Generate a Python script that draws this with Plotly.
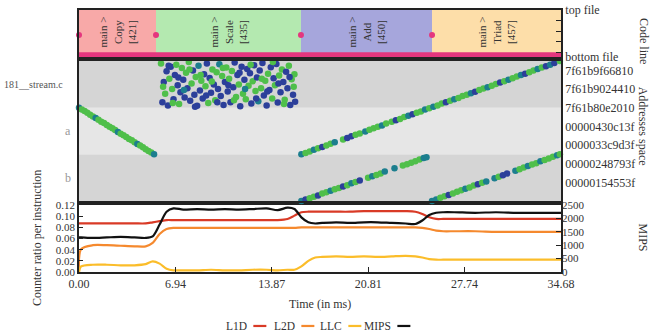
import plotly.graph_objects as go

# ---------------- data ----------------
# counters (bottom panel)
time_ms = [0.0, 0.15, 1.0, 2.0, 3.0, 4.0, 4.8, 5.3, 5.8, 6.3, 6.8, 7.5, 8.5, 9.5, 10.5, 11.5,
           12.5, 13.5, 14.3, 15.0, 15.5, 16.0, 16.5, 17.0, 17.5, 18.5, 19.5, 20.5, 21.5, 22.5,
           23.5, 24.2, 24.7, 25.2, 25.7, 26.2, 27.0, 28.5, 30.0, 31.5, 33.0, 34.68]
l1d = [0.087, 0.087, 0.087, 0.087, 0.087, 0.087, 0.087, 0.089, 0.091, 0.093, 0.093, 0.093, 0.093,
       0.093, 0.093, 0.093, 0.093, 0.093, 0.093, 0.095, 0.101, 0.107, 0.108, 0.108, 0.108, 0.108,
       0.108, 0.109, 0.109, 0.109, 0.109, 0.108, 0.104, 0.098, 0.095, 0.095, 0.095, 0.095, 0.095,
       0.095, 0.095, 0.095]
l2d = [0.0, 0.041, 0.048, 0.048, 0.047, 0.046, 0.046, 0.052, 0.068, 0.077, 0.079, 0.079, 0.079,
       0.079, 0.079, 0.079, 0.079, 0.079, 0.079, 0.079, 0.079, 0.080, 0.080, 0.080, 0.080, 0.080,
       0.080, 0.080, 0.080, 0.080, 0.080, 0.080, 0.079, 0.077, 0.074, 0.073, 0.073, 0.073, 0.072,
       0.072, 0.072, 0.072]
llc = [0.0, 0.010, 0.013, 0.013, 0.012, 0.012, 0.014, 0.019, 0.015, 0.006, 0.003, 0.003, 0.003,
       0.004, 0.003, 0.003, 0.004, 0.004, 0.003, 0.004, 0.004, 0.010, 0.020, 0.026, 0.027, 0.028,
       0.027, 0.028, 0.027, 0.028, 0.029, 0.028, 0.026, 0.023, 0.022, 0.022, 0.022, 0.022, 0.022,
       0.022, 0.022, 0.022]
mips = [1290, 1290, 1270, 1290, 1310, 1290, 1270, 1330, 1770, 2250, 2375, 2330, 2350, 2330, 2350,
        2330, 2350, 2375, 2310, 2400, 2350, 2040, 1855, 1810, 1830, 1855, 1830, 1855, 1855, 1830,
        1810, 1790, 1920, 2125, 2210, 2230, 2230, 2210, 2230, 2210, 2210, 2210]

time_ticks = [0.00, 6.94, 13.87, 20.81, 27.74, 34.68]
ratio_ticks = [0.00, 0.02, 0.04, 0.06, 0.08, 0.10, 0.12]
mips_ticks = [0, 500, 1000, 1500, 2000, 2500]

# code phases (top panel)
phase_names = ["Copy", "Scale", "Add", "Triad"]
phase_lines = [421, 435, 450, 457]
phase_start = [0.0, 5.54, 15.97, 25.40]
phase_end = [5.54, 15.97, 25.40, 34.68]
code_ticks = [0.0, 0.1, 0.325, 0.55, 0.775, 1.0]
code_ticktext = ["bottom file", "", "", "", "", "top file"]

# address space (middle panel)
band_labels = ["b", "a", "181__stream.c"]
band_low = [0.0, 1.0, 2.0]
band_high = [1.0, 2.0, 3.0]
addr_ticks = [0.4, 0.8, 1.2, 1.6, 2.0, 2.4, 2.8]
addr_labels = ["00000154553f", "00000248793f", "0000033c9d3f", "00000430c13f",
               "7f61b80e2010", "7f61b9024410", "7f61b9f66810"]

copy_t = [0.0, 0.2, 0.4, 0.6, 0.8, 1.0, 1.2, 1.4, 1.6, 1.8, 2.0, 2.2, 2.4, 2.6, 2.8, 3.0, 3.2,
          3.4, 3.6, 3.8, 4.0, 4.2, 4.4, 4.6, 4.8, 5.0, 5.2, 5.4]
copy_u = [2.00, 1.96, 1.93, 1.89, 1.85, 1.81, 1.78, 1.74, 1.70, 1.67, 1.63, 1.59, 1.56, 1.52,
          1.48, 1.44, 1.41, 1.37, 1.33, 1.30, 1.26, 1.22, 1.19, 1.15, 1.11, 1.07, 1.04, 1.00]
copy_c = [1, 0, 0, 0, 0, 0, 1, 0, 0, 0, 0, 0, 0, 0, 1, 0, 0, 0, 0, 0, 0, 1, 0, 0, 0, 0, 0, 1]

scale_t = [5.9, 6.0, 6.1, 6.2, 6.3, 6.4, 6.5, 6.6, 6.7, 6.8, 6.9, 7.0, 7.1, 7.2, 7.3, 7.4, 7.5,
           7.6, 7.7, 7.8, 7.9, 8.0, 8.1, 8.2, 8.3, 8.4, 8.5, 8.6, 8.7, 8.8, 8.9, 9.0, 9.1, 9.2,
           9.3, 9.4, 9.5, 9.6, 9.7, 9.8, 9.9, 10.0, 10.1, 10.2, 10.3, 10.4, 10.5, 10.6, 10.7,
           10.8, 10.9, 11.0, 11.1, 11.2, 11.3, 11.4, 11.5, 11.6, 11.7, 11.8, 11.9, 12.0, 12.1,
           12.2, 12.3, 12.4, 12.5, 12.6, 12.7, 12.8, 12.9, 13.0, 13.1, 13.2, 13.3, 13.4, 13.5,
           13.6, 13.7, 13.8, 13.9, 14.0, 14.1, 14.2, 14.3, 14.4, 14.5, 14.6, 14.7, 14.8, 14.9,
           15.0, 15.1, 15.2, 15.3, 15.4, 15.5, 15.55,
           6.05, 6.45, 6.75, 7.15, 7.55, 7.95, 8.35, 8.75, 9.15, 9.55, 9.95, 10.35, 10.75, 11.15,
           11.55, 11.95, 12.35, 12.75, 13.15, 13.55, 13.95, 14.35, 14.75, 15.15, 15.45]
scale_u = [2.95, 2.12, 2.55, 2.30, 2.78, 2.05, 2.62, 2.88, 2.40, 2.18, 2.70, 2.92, 2.48, 2.08,
           2.33, 2.85, 2.60, 2.22, 2.75, 2.42, 2.98, 2.15, 2.52, 2.80, 2.28, 2.66, 2.04, 2.90,
           2.37, 2.58, 2.20, 2.72, 2.46, 2.95, 2.10, 2.64, 2.32, 2.82, 2.50, 2.16, 2.76, 2.40,
           2.93, 2.25, 2.68, 2.06, 2.55, 2.86, 2.35, 2.62, 2.12, 2.79, 2.44, 2.97, 2.23, 2.70,
           2.50, 2.03, 2.88, 2.30, 2.60, 2.18, 2.83, 2.47, 2.74, 2.09, 2.57, 2.91, 2.36, 2.65,
           2.14, 2.80, 2.42, 2.96, 2.26, 2.58, 2.05, 2.73, 2.38, 2.87, 2.20, 2.63, 2.48, 2.94,
           2.11, 2.69, 2.33, 2.82, 2.55, 2.17, 2.77, 2.42, 2.90, 2.06, 2.61, 2.28, 2.72, 2.13,
           2.45, 2.90, 2.10, 2.65, 2.38, 2.82, 2.02, 2.70, 2.26, 2.56, 2.12, 2.85, 2.48, 2.16,
           2.75, 2.40, 2.92, 2.20, 2.62, 2.35, 2.98, 2.52, 2.08, 2.66, 2.45]
scale_c = [0, 2, 2, 0, 2, 2, 0, 2, 0, 2, 2, 0, 2, 0, 2, 0, 2, 2, 0, 2, 0, 2, 0, 2, 2, 0, 2, 1,
           2, 0, 2, 2, 0, 2, 0, 2, 2, 0, 2, 0, 0, 2, 1, 2, 0, 2, 2, 0, 2, 0, 2, 0, 2, 2, 0, 2,
           0, 2, 2, 0, 2, 0, 2, 0, 2, 2, 0, 2, 0, 2, 1, 2, 0, 2, 2, 0, 2, 0, 2, 2, 0, 2, 0, 2,
           2, 0, 2, 0, 2, 0, 2, 2, 0, 2, 0, 2, 0, 2,
           0, 2, 0, 2, 1, 0, 2, 0, 2, 0, 2, 0, 2, 0, 2, 1, 0, 2, 0, 2, 0, 2, 0, 2, 0]

long_t = [16.0, 16.3, 16.6, 16.9, 17.2, 17.5, 17.8, 18.1, 18.4, 19.0, 19.3, 19.6, 19.9, 20.2,
          20.6, 20.9, 21.2, 21.5, 21.8, 22.1, 22.5, 22.8, 23.1, 23.4, 23.7, 24.0, 24.3, 24.6,
          24.9, 25.2, 25.5, 25.8, 26.1, 26.4, 26.7, 27.0, 27.3, 27.6, 27.9, 28.2, 28.5, 28.8,
          29.1, 29.4, 29.7, 30.0, 30.3, 30.6, 30.9, 31.2, 31.5, 31.8, 32.1, 32.4, 32.7, 33.0,
          33.3, 33.6, 33.9, 34.2, 34.6]
long_u = [1.00, 1.03, 1.06, 1.10, 1.13, 1.16, 1.19, 1.23, 1.26, 1.32, 1.35, 1.39, 1.42, 1.45,
          1.49, 1.53, 1.56, 1.59, 1.62, 1.66, 1.70, 1.73, 1.76, 1.80, 1.83, 1.86, 1.89, 1.92,
          1.96, 1.99, 2.02, 2.05, 2.09, 2.12, 2.15, 2.18, 2.21, 2.25, 2.28, 2.31, 2.34, 2.38,
          2.41, 2.44, 2.47, 2.51, 2.54, 2.57, 2.60, 2.63, 2.67, 2.70, 2.73, 2.76, 2.80, 2.83,
          2.86, 2.89, 2.92, 2.96, 3.00]
long_c = [1, 0, 0, 1, 0, 2, 0, 0, 1, 0, 2, 2, 0, 0, 1, 0, 0, 0, 1, 0, 0, 2, 0, 0, 1, 2, 0, 0,
          1, 0, 1, 0, 0, 2, 0, 1, 0, 0, 0, 1, 2, 0, 0, 1, 0, 0, 2, 0, 1, 0, 0, 1, 2, 0, 0, 1,
          0, 2, 1, 2, 0]

b1_t = [16.0, 16.3, 16.6, 16.9, 17.2, 17.5, 17.8, 18.1, 18.4, 18.7, 19.0, 19.3, 19.6, 19.9,
        20.2, 20.8, 21.1, 21.4, 21.7, 22.0, 22.7, 23.3, 23.6, 23.9, 24.2, 24.5, 24.8, 25.0]
b1_u = [0.00, 0.03, 0.06, 0.09, 0.12, 0.16, 0.19, 0.22, 0.25, 0.28, 0.31, 0.34, 0.38, 0.41,
        0.44, 0.50, 0.53, 0.56, 0.59, 0.63, 0.70, 0.76, 0.79, 0.82, 0.85, 0.89, 0.92, 0.94]
b1_c = [1, 2, 0, 0, 2, 0, 0, 1, 0, 0, 2, 0, 1, 0, 2, 0, 1, 0, 0, 1, 1, 0, 0, 0, 0, 0, 1, 1]

b2_t = [25.4, 25.7, 26.0, 26.3, 26.6, 26.9, 27.2, 27.5, 27.8, 28.1, 28.4, 28.7, 29.0, 29.3,
        29.9, 30.2, 30.5, 30.8, 31.4, 31.7, 32.0, 32.3, 32.6, 32.9, 33.2, 33.5, 33.8, 34.1,
        34.4, 34.6]
b2_u = [0.00, 0.03, 0.07, 0.10, 0.13, 0.16, 0.20, 0.23, 0.26, 0.29, 0.33, 0.36, 0.39, 0.42,
        0.49, 0.52, 0.55, 0.59, 0.65, 0.68, 0.72, 0.75, 0.78, 0.81, 0.85, 0.88, 0.91, 0.95,
        0.98, 1.00]
b2_c = [1, 1, 0, 0, 2, 0, 0, 0, 1, 0, 0, 2, 0, 1, 1, 0, 2, 2, 1, 0, 0, 1, 0, 0, 1, 0, 0, 0, 1, 0]

# ---------------- style ----------------
FONT = "Liberation Serif"
PALETTE = ["#4fbf4a", "#1c7e8e", "#2c3f9a"]
PHASE_COLORS = ["#f8a9a8", "#b4e9b0", "#a6a6dc", "#fddea9"]
SERIES_COLORS = {"L1D": "#d93a26", "L2D": "#f5892e", "LLC": "#fbbd2a", "MIPS": "#111111"}
FRAME = "#222222"
TXT = "#333333"
TICKFONT = dict(family=FONT, size=12, color=TXT)
SMALLTICK = dict(family=FONT, size=11, color=TXT)

fig = go.Figure()

# top panel: phase markers
fig.add_trace(go.Scatter(x=phase_start, y=[0.47] * len(phase_start), mode="markers",
                         marker=dict(color="#e4367e", size=6), xaxis="x3", yaxis="y3",
                         cliponaxis=False, showlegend=False, hoverinfo="skip"))

# middle panel scatter
for tt, uu, cc in [(copy_t, copy_u, copy_c), (b1_t, b1_u, b1_c), (b2_t, b2_u, b2_c),
                   (long_t, long_u, long_c), (scale_t, scale_u, scale_c)]:
    fig.add_trace(go.Scatter(x=tt, y=uu, mode="markers",
                             marker=dict(color=[PALETTE[c] for c in cc], size=6.5,
                                         line=dict(width=0)),
                             xaxis="x2", yaxis="y2", cliponaxis=False, showlegend=False))

# bottom panel counters
for name, vals in [("L1D", l1d), ("L2D", l2d), ("LLC", llc)]:
    fig.add_trace(go.Scatter(x=time_ms, y=vals, mode="lines", name=name,
                             line=dict(color=SERIES_COLORS[name], width=2.2, shape="spline",
                                       smoothing=0.8),
                             xaxis="x", yaxis="y", showlegend=False))
fig.add_trace(go.Scatter(x=time_ms, y=mips, mode="lines", name="MIPS",
                         line=dict(color=SERIES_COLORS["MIPS"], width=2.2, shape="spline",
                                   smoothing=0.8),
                         xaxis="x", yaxis="y4", showlegend=False))

shapes = []
# phase rectangles + code-line band
for s, e, col in zip(phase_start, phase_end, PHASE_COLORS):
    shapes.append(dict(type="rect", xref="x3", yref="y3", x0=s, x1=e, y0=0, y1=1,
                       fillcolor=col, line=dict(width=0), layer="below"))
shapes.append(dict(type="rect", xref="x3", yref="y3", x0=phase_start[0], x1=phase_end[-1],
                   y0=0.0, y1=0.1, fillcolor="#e4367e", line=dict(width=0), layer="below"))
# address bands
for i, (lo, hi) in enumerate(zip(band_low, band_high)):
    shapes.append(dict(type="rect", xref="x2", yref="y2", x0=0, x1=34.68, y0=lo, y1=hi,
                       fillcolor="#e6e6e6" if i == 1 else "#d5d5d5", line=dict(width=0),
                       layer="below"))

annotations = []
for n, ln, s, e in zip(phase_names, phase_lines, phase_start, phase_end):
    annotations.append(dict(x=(s + e) / 2, y=0.53, xref="x3", yref="y3",
                            xanchor="center", yanchor="middle",
                            text=f"main &gt;<br>{n}<br>[{ln}]", textangle=-90, showarrow=False,
                            font=dict(family=FONT, size=11, color=TXT)))
for lab, lo, hi in zip(band_labels, band_low, band_high):
    long_lab = len(lab) > 1
    annotations.append(dict(x=-0.029 if long_lab else -0.012, y=(lo + hi) / 2,
                            xref="paper", yref="y2", xanchor="right", yanchor="middle",
                            text=lab, showarrow=False,
                            font=dict(family=FONT, size=10 if long_lab else 12,
                                      color="#555" if long_lab else "#999")))
# axis titles
title_font = dict(family=FONT, size=12, color=TXT)
annotations += [
    dict(x=1.171, y=0.88, xref="paper", yref="paper", text="Code line", textangle=90,
         xanchor="center", yanchor="middle", showarrow=False, font=title_font),
    dict(x=1.171, y=0.557, xref="paper", yref="paper", text="Addresses space", textangle=90,
         xanchor="center", yanchor="middle", showarrow=False, font=title_font),
    dict(x=1.171, y=0.13, xref="paper", yref="paper", text="MIPS", textangle=90,
         xanchor="center", yanchor="middle", showarrow=False, font=title_font),
    dict(x=-0.087, y=0.13, xref="paper", yref="paper", text="Counter ratio per instruction",
         textangle=-90, xanchor="center", yanchor="middle", showarrow=False, font=title_font),
    dict(x=0.5, y=-0.122, xref="paper", yref="paper", text="Time (in ms)", showarrow=False,
         xanchor="center", yanchor="middle", font=title_font),
]
# legend (text then line swatch)
legend_x = [0.3527, 0.4523, 0.5498, 0.6515]
for name, lx in zip(["L1D", "L2D", "LLC", "MIPS"], legend_x):
    annotations.append(dict(x=lx, y=-0.206, xref="paper", yref="paper", xanchor="right",
                            yanchor="middle", text=name, showarrow=False,
                            font=dict(family=FONT, size=11.5, color=TXT)))
    shapes.append(dict(type="line", xref="paper", yref="paper", x0=lx + 0.009, x1=lx + 0.036,
                       y0=-0.206, y1=-0.206, line=dict(color=SERIES_COLORS[name], width=2.2)))

axis_common = dict(showline=True, mirror=True, linecolor=FRAME, linewidth=1.8, showgrid=False,
                   zeroline=False, automargin=False)

fig.update_layout(
    width=651, height=335,
    margin=dict(l=79, r=90, t=10, b=63, autoexpand=False),
    paper_bgcolor="white", plot_bgcolor="white",
    font=dict(family=FONT, size=11, color=TXT),
    shapes=shapes, annotations=annotations,
    xaxis=dict(domain=[0, 1], range=[0, 34.68], anchor="y", tickvals=time_ticks,
               ticktext=[f"{v:.2f}" for v in time_ticks], ticks="inside", ticklen=5,
               tickcolor=FRAME, tickfont=TICKFONT, **axis_common),
    xaxis2=dict(domain=[0, 1], range=[0, 34.68], anchor="y2", showticklabels=False,
                ticks="", **axis_common),
    xaxis3=dict(domain=[0, 1], range=[0, 34.68], anchor="y3", showticklabels=False,
                ticks="", **axis_common),
    yaxis=dict(domain=[0, 0.2557], range=[0, 0.12], tickvals=ratio_ticks,
               ticktext=[f"{v:.2f}" for v in ratio_ticks], ticks="inside", ticklen=4,
               tickcolor=FRAME, tickfont=SMALLTICK, **axis_common),
    yaxis4=dict(overlaying="y", side="right", range=[0, 2500], tickvals=mips_ticks,
                ticks="inside", ticklen=5, tickcolor=FRAME, showgrid=False, zeroline=False,
                showline=False, anchor="x", automargin=False, tickfont=SMALLTICK),
    yaxis2=dict(domain=[0.271, 0.805], range=[0, 3], side="right", tickvals=addr_ticks,
                ticktext=addr_labels, ticks="", anchor="x2", tickfont=TICKFONT, **axis_common),
    yaxis3=dict(domain=[0.8206, 1], range=[0, 1], side="right", tickvals=code_ticks,
                ticktext=code_ticktext, ticks="inside", ticklen=5, tickcolor=FRAME,
                anchor="x3", tickfont=TICKFONT, **axis_common),
)

fig.write_html("out.html", config={"displayModeBar": False},
               post_script="document.body.style.margin='0';document.body.style.padding='0';")
